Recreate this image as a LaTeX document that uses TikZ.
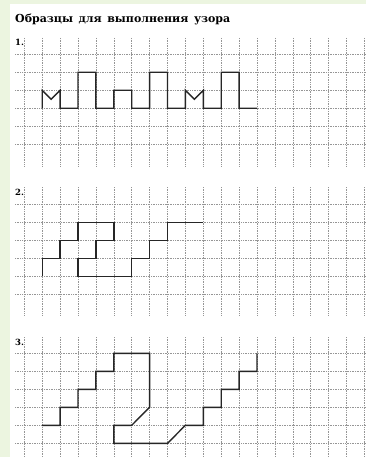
\documentclass[tikz,border=0pt]{standalone}
\usepackage{fontspec}
\setmainfont{DejaVu Serif}
\definecolor{bggreen}{RGB}{236,245,224}
\definecolor{gridgray}{RGB}{150,150,150}
\newcommand\patgrid[3]{%
  \foreach \k in {0,...,19}{\draw[gridline] ({24.3+17.9*\k},#1) -- ({24.3+17.9*\k},#2);}
  \foreach \r in {0,...,5}{\draw[gridline] (15,{#3+18*\r}) -- (366,{#3+18*\r});}
}
\begin{document}
\begin{tikzpicture}[x=1pt,y=-1pt,
  gridline/.style={gridgray, line width=0.5pt, dash pattern=on 1pt off 0.7pt},
  pat/.style={line width=1.4pt, black!85, line join=miter},
  numlabel/.style={anchor=base west, inner sep=0pt, font=\bfseries\fontsize{8.5}{9}\selectfont}]
\fill[bggreen] (0,0) rectangle (366,457);
\fill[white] (10,4) rectangle (366,457);
\useasboundingbox (0,0) rectangle (366,457);

\node[anchor=base west, inner sep=0pt, font=\bfseries\fontsize{11}{13}\selectfont] (title) at (15,23) {Образцы\hspace{5.5pt}для\hspace{5.5pt}выполнения\hspace{5.5pt}узора};

% grid 1
\patgrid{38}{166}{54.3}
\node[numlabel] (lab1) at (15,45.5) {1.};
\begin{scope}[shift={(24.3pt,-54.3pt)}, x=17.9pt, y=-18pt]
\draw[pat] (1,3)--(1,2)--(1.5,2.5)--(2,2)--(2,3)--(3,3)--(3,1)--(4,1)--(4,3)--(5,3)--(5,2)--(6,2)--(6,3)--(7,3)--(7,1)--(8,1)--(8,3)--(9,3)--(9,2)--(9.5,2.5)--(10,2)--(10,3)--(11,3)--(11,1)--(12,1)--(12,3)--(13,3);
\end{scope}

% grid 2
\patgrid{187}{315}{204.3}
\node[numlabel] (lab2) at (15,195.5) {2.};
\begin{scope}[shift={(24.3pt,-204.3pt)}, x=17.9pt, y=-18pt]
\draw[pat] (1,4)--(1,3)--(2,3)--(2,2)--(3,2)--(3,1)--(5,1)--(5,2)--(4,2)--(4,3)--(3,3)--(3,4)--(6,4)--(6,3)--(7,3)--(7,2)--(8,2)--(8,1)--(10,1);
\end{scope}

% grid 3
\patgrid{337}{457}{353.3}
\node[numlabel] (lab3) at (15,345.5) {3.};
\begin{scope}[shift={(24.3pt,-353.3pt)}, x=17.9pt, y=-18pt]
\draw[pat] (1,4)--(2,4)--(2,3)--(3,3)--(3,2)--(4,2)--(4,1)--(5,1)--(5,0)--(7,0)--(7,3)--(6,4)--(5,4)--(5,5)--(8,5)--(9,4)--(10,4)--(10,3)--(11,3)--(11,2)--(12,2)--(12,1)--(13,1)--(13,0);
\end{scope}
\end{tikzpicture}
\end{document}
